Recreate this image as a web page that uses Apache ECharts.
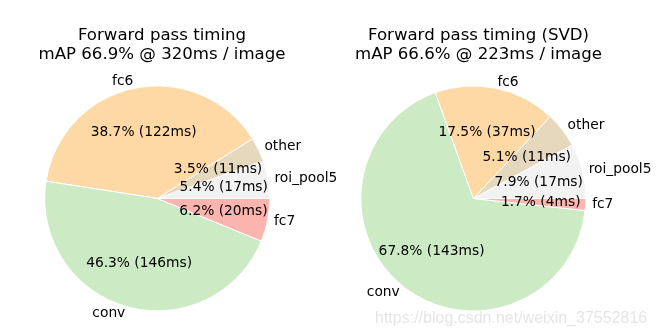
<!DOCTYPE html>
<html><head><meta charset="utf-8">
<script src="https://cdn.jsdelivr.net/npm/echarts@6/dist/echarts.min.js"></script>
<style>html,body{margin:0;padding:0;background:#fff}#c{width:657px;height:336px}</style>
</head><body><div id="c"></div><script>
const categories = ['roi_pool5', 'other', 'fc6', 'conv', 'fc7'];
const pctBaseline = [5.4, 3.5, 38.7, 46.3, 6.2];
const msBaseline = [17, 11, 122, 146, 20];
const pctSVD = [7.9, 5.1, 17.5, 67.8, 1.7];
const msSVD = [17, 11, 37, 143, 4];
const sliceColors = ['#f2f2f2', '#e5d8bd', '#fed9a6', '#ccebc5', '#fbb4ae'];
const titleBaseline = 'Forward pass timing\nmAP 66.9% @ 320ms / image';
const titleSVD = 'Forward pass timing (SVD)\nmAP 66.6% @ 223ms / image';

const FONT = 'DejaVu Sans';
const R = 112.5;

function pieSeries(pct, ms, center) {
  const data = categories.map((n, i) => ({ name: n, value: pct[i], itemStyle: { color: sliceColors[i] } }));
  const main = {
    type: 'pie', center: center, radius: [0, R],
    startAngle: 0, clockwise: false, avoidLabelOverlap: false,
    animation: false, silent: true,
    itemStyle: { borderColor: '#ffffff', borderWidth: 1 },
    label: { show: true, position: 'outside', formatter: '{b}', fontFamily: FONT, fontSize: 13.8,
             color: '#000', distanceToLabelLine: 0 },
    labelLine: { show: false, length: 6.5, length2: 0 },
    emphasis: { disabled: true },
    data: data
  };
  const inner = {
    type: 'pie', center: center, radius: [0, 2 * (0.6 * R - 3)],
    startAngle: 0, clockwise: false, avoidLabelOverlap: false,
    animation: false, silent: true, z: 5,
    itemStyle: { color: 'rgba(0,0,0,0)', borderWidth: 0 },
    label: { show: true, position: 'inside', rotate: 0, fontFamily: FONT, fontSize: 13.8, color: '#000',
             formatter: p => pct[p.dataIndex].toFixed(1) + '% (' + ms[p.dataIndex] + 'ms)' },
    labelLine: { show: false },
    emphasis: { disabled: true },
    data: categories.map((n, i) => ({ name: n, value: pct[i], itemStyle: { color: 'rgba(0,0,0,0)' } }))
  };
  return [main, inner];
}

const chart = echarts.init(document.getElementById('c'), null, { renderer: 'canvas' });
chart.setOption({
  backgroundColor: '#ffffff',
  animation: false,
  title: [
    { text: titleBaseline, left: 157, top: 21, textAlign: 'center',
      textStyle: { fontFamily: FONT, fontSize: 16.6, fontWeight: 'normal', color: '#000', lineHeight: 19, align: 'center' } },
    { text: titleSVD, left: 473.5, top: 21, textAlign: 'center',
      textStyle: { fontFamily: FONT, fontSize: 16.6, fontWeight: 'normal', color: '#000', lineHeight: 19, align: 'center' } }
  ],
  series: [
    ...pieSeries(pctBaseline, msBaseline, [157.2, 198.4]),
    ...pieSeries(pctSVD, msSVD, [473.3, 198.5])
  ],
  graphic: [
    { type: 'text', left: 375, top: 311, silent: true, z: 100,
      style: { text: 'https://blog.csdn.net/weixin_37552816', fontFamily: 'Liberation Sans', fontSize: 16,
               fill: 'rgba(225,225,225,0.85)' } }
  ]
});
</script></body></html>
